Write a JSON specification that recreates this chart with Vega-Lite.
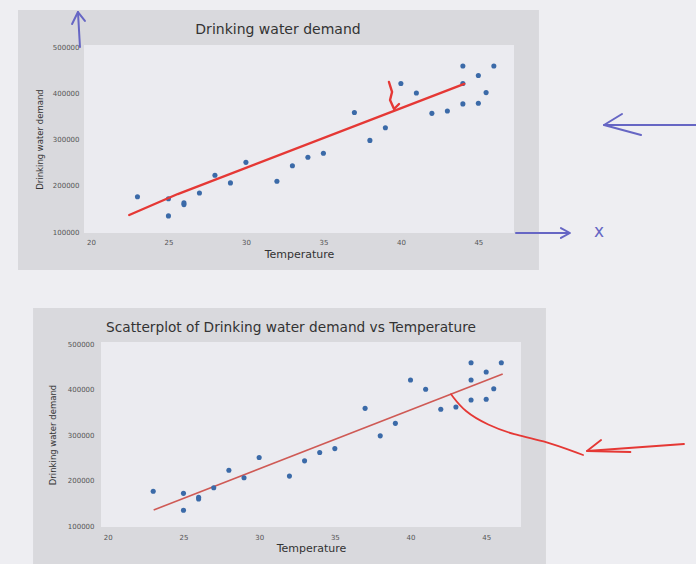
{
  "$schema": "https://vega.github.io/schema/vega-lite/v6.json",
  "background": "#eeeef2",
  "padding": {"left": 17, "top": 10, "right": 0, "bottom": 0},
  "spacing": 38,
  "config": {
    "font": "DejaVu Sans",
    "view": {"stroke": null},
    "axis": {"grid": false, "domain": false, "ticks": false, "labelFontSize": 7, "labelColor": "#555555", "titleFontWeight": "normal", "titleColor": "#333333"},
    "axisX": {"titleFontSize": 11},
    "axisY": {"titleFontSize": 8.5}
  },
  "datasets": {
    "pts": [
      {"Temperature": 23, "Demand": 176500},
      {"Temperature": 25, "Demand": 172000},
      {"Temperature": 25, "Demand": 135000},
      {"Temperature": 26, "Demand": 159500},
      {"Temperature": 26, "Demand": 163200},
      {"Temperature": 27, "Demand": 184500},
      {"Temperature": 28, "Demand": 223000},
      {"Temperature": 29, "Demand": 206500},
      {"Temperature": 30, "Demand": 251000},
      {"Temperature": 32, "Demand": 210000},
      {"Temperature": 33, "Demand": 243500},
      {"Temperature": 34, "Demand": 262000},
      {"Temperature": 35, "Demand": 270500},
      {"Temperature": 37, "Demand": 359000},
      {"Temperature": 38, "Demand": 298500},
      {"Temperature": 39, "Demand": 326000},
      {"Temperature": 40, "Demand": 421500},
      {"Temperature": 41, "Demand": 401000},
      {"Temperature": 42, "Demand": 357000},
      {"Temperature": 43, "Demand": 362000},
      {"Temperature": 44, "Demand": 459500},
      {"Temperature": 44, "Demand": 421500},
      {"Temperature": 44, "Demand": 377500},
      {"Temperature": 45, "Demand": 439000},
      {"Temperature": 45, "Demand": 379000},
      {"Temperature": 45.5, "Demand": 402000},
      {"Temperature": 46, "Demand": 459500}
    ],
    "redTop": [
      {"part": "fit", "step": 1, "Temperature": 22.47, "Demand": 137000},
      {"part": "fit", "step": 2, "Temperature": 25.6, "Demand": 182400},
      {"part": "fit", "step": 3, "Temperature": 44.09, "Demand": 420600},
      {"part": "residual", "step": 1, "Temperature": 39.23, "Demand": 424900},
      {"part": "residual", "step": 2, "Temperature": 39.43, "Demand": 403300},
      {"part": "residual", "step": 3, "Temperature": 39.3, "Demand": 385900},
      {"part": "residual", "step": 4, "Temperature": 39.56, "Demand": 366500},
      {"part": "residual", "step": 5, "Temperature": 39.88, "Demand": 377300}
    ],
    "blueTop": [
      {"part": "yarrow", "step": 1, "Temperature": 19.29, "Demand": 500700},
      {"part": "yarrow", "step": 2, "Temperature": 19.16, "Demand": 576400},
      {"part": "yhead", "step": 1, "Temperature": 18.78, "Demand": 550500},
      {"part": "yhead", "step": 2, "Temperature": 19.16, "Demand": 576400},
      {"part": "yhead", "step": 3, "Temperature": 19.61, "Demand": 557000},
      {"part": "xarrow", "step": 1, "Temperature": 47.43, "Demand": 98000},
      {"part": "xarrow", "step": 2, "Temperature": 50.85, "Demand": 98000},
      {"part": "xhead", "step": 1, "Temperature": 50.33, "Demand": 108800},
      {"part": "xhead", "step": 2, "Temperature": 50.91, "Demand": 98000},
      {"part": "xhead", "step": 3, "Temperature": 50.33, "Demand": 87200},
      {"part": "pointer", "step": 1, "Temperature": 59.11, "Demand": 331800},
      {"part": "pointer", "step": 2, "Temperature": 53.11, "Demand": 331800},
      {"part": "phead", "step": 1, "Temperature": 54.27, "Demand": 355600},
      {"part": "phead", "step": 2, "Temperature": 53.11, "Demand": 331800},
      {"part": "phead", "step": 3, "Temperature": 55.5, "Demand": 310200}
    ],
    "xLabel": [
      {"label": "x", "Temperature": 52.79, "Demand": 100200}
    ],
    "fitBottom": [
      {"Temperature": 23.03, "Demand": 135400},
      {"Temperature": 46.09, "Demand": 434600}
    ],
    "curveBottom": [
      {"step": 1, "Temperature": 42.68, "Demand": 389900},
      {"step": 2, "Temperature": 43.56, "Demand": 351700},
      {"step": 3, "Temperature": 45.1, "Demand": 322400},
      {"step": 4, "Temperature": 46.86, "Demand": 300400},
      {"step": 5, "Temperature": 48.62, "Demand": 290000},
      {"step": 6, "Temperature": 51.4, "Demand": 256400}
    ],
    "arrowBottom": [
      {"part": "pointer", "step": 1, "Temperature": 51.66, "Demand": 265200},
      {"part": "pointer", "step": 2, "Temperature": 58.07, "Demand": 280600},
      {"part": "head", "step": 1, "Temperature": 52.59, "Demand": 289400},
      {"part": "head", "step": 2, "Temperature": 51.66, "Demand": 265200},
      {"part": "head", "step": 3, "Temperature": 54.53, "Demand": 263000}
    ]
  },
  "vconcat": [
    {
      "width": 430,
      "height": 188,
      "title": {"text": "Drinking water demand", "anchor": "middle", "frame": "group", "dx": -21, "offset": -27, "fontSize": 14, "fontWeight": "normal", "color": "#333333", "zindex": 1},
      "layer": [
        {
          "data": {"values": [{}]},
          "mark": {"type": "rect", "color": "#d9d9dd", "clip": false},
          "encoding": {
            "x": {"datum": 15.29, "type": "quantitative", "scale": {"domain": [19.55, 47.3], "nice": false, "zero": false}},
            "x2": {"datum": 48.91},
            "y": {"datum": 580770, "type": "quantitative", "scale": {"domain": [98000, 505000], "nice": false, "zero": false}},
            "y2": {"datum": 17900}
          }
        },
        {
          "data": {"values": [{}]},
          "mark": {"type": "rect", "color": "#ebebf0", "clip": false},
          "encoding": {
            "x": {"datum": 19.55, "type": "quantitative", "scale": {"domain": [19.55, 47.3], "nice": false, "zero": false}},
            "x2": {"datum": 47.3},
            "y": {"datum": 505000, "type": "quantitative", "scale": {"domain": [98000, 505000], "nice": false, "zero": false}},
            "y2": {"datum": 98000}
          }
        },
        {
          "data": {"name": "pts"},
          "mark": {"type": "circle", "size": 26, "color": "#3b6aa8", "opacity": 1},
          "encoding": {
            "x": {"field": "Temperature", "type": "quantitative", "scale": {"domain": [19.55, 47.3], "nice": false, "zero": false}, "axis": {"values": [20, 25, 30, 35, 40, 45], "title": "Temperature", "labelPadding": 5, "titlePadding": 3, "zindex": 1}},
            "y": {"field": "Demand", "type": "quantitative", "scale": {"domain": [98000, 505000], "nice": false, "zero": false}, "axis": {"values": [100000, 200000, 300000, 400000, 500000], "format": "d", "title": "Drinking water demand", "labelPadding": 5, "titlePadding": 8, "zindex": 1}}
          }
        },
        {
          "data": {"name": "redTop"},
          "mark": {"type": "line", "color": "#e53835", "strokeWidth": 2.4, "strokeCap": "round", "strokeJoin": "round", "clip": false},
          "encoding": {
            "x": {"field": "Temperature", "type": "quantitative", "scale": {"domain": [19.55, 47.3], "nice": false, "zero": false}},
            "y": {"field": "Demand", "type": "quantitative", "scale": {"domain": [98000, 505000], "nice": false, "zero": false}},
            "detail": {"field": "part"},
            "order": {"field": "step"}
          }
        },
        {
          "data": {"name": "blueTop"},
          "mark": {"type": "line", "color": "#6666c4", "strokeWidth": 2, "strokeCap": "round", "strokeJoin": "round", "clip": false},
          "encoding": {
            "x": {"field": "Temperature", "type": "quantitative", "scale": {"domain": [19.55, 47.3], "nice": false, "zero": false}},
            "y": {"field": "Demand", "type": "quantitative", "scale": {"domain": [98000, 505000], "nice": false, "zero": false}},
            "detail": {"field": "part"},
            "order": {"field": "step"}
          }
        },
        {
          "data": {"name": "xLabel"},
          "mark": {"type": "text", "color": "#6666c4", "fontSize": 17, "baseline": "middle", "align": "center", "clip": false},
          "encoding": {
            "x": {"field": "Temperature", "type": "quantitative", "scale": {"domain": [19.55, 47.3], "nice": false, "zero": false}},
            "y": {"field": "Demand", "type": "quantitative", "scale": {"domain": [98000, 505000], "nice": false, "zero": false}},
            "text": {"field": "label"}
          }
        }
      ]
    },
    {
      "width": 437,
      "height": 185,
      "title": {"text": "Scatterplot of Drinking water demand vs Temperature", "anchor": "middle", "frame": "group", "dx": -11.5, "offset": -27, "fontSize": 13.7, "fontWeight": "normal", "color": "#333333", "zindex": 1},
      "layer": [
        {
          "data": {"values": [{}]},
          "mark": {"type": "rect", "color": "#d9d9dd", "clip": false},
          "encoding": {
            "x": {"datum": 15.06, "type": "quantitative", "scale": {"domain": [18.427, 47.3], "nice": false, "zero": false}},
            "x2": {"datum": 48.95},
            "y": {"datum": 579800, "type": "quantitative", "scale": {"domain": [98000, 505000], "nice": false, "zero": false}},
            "y2": {"datum": 16600}
          }
        },
        {
          "data": {"values": [{}]},
          "mark": {"type": "rect", "color": "#ebebf0", "clip": false},
          "encoding": {
            "x": {"datum": 19.55, "type": "quantitative", "scale": {"domain": [18.427, 47.3], "nice": false, "zero": false}},
            "x2": {"datum": 47.3},
            "y": {"datum": 505000, "type": "quantitative", "scale": {"domain": [98000, 505000], "nice": false, "zero": false}},
            "y2": {"datum": 98000}
          }
        },
        {
          "data": {"name": "fitBottom"},
          "mark": {"type": "line", "color": "#cf5a55", "strokeWidth": 1.6},
          "encoding": {
            "x": {"field": "Temperature", "type": "quantitative", "scale": {"domain": [18.427, 47.3], "nice": false, "zero": false}},
            "y": {"field": "Demand", "type": "quantitative", "scale": {"domain": [98000, 505000], "nice": false, "zero": false}}
          }
        },
        {
          "data": {"name": "pts"},
          "mark": {"type": "circle", "size": 26, "color": "#3b6aa8", "opacity": 1},
          "encoding": {
            "x": {"field": "Temperature", "type": "quantitative", "scale": {"domain": [18.427, 47.3], "nice": false, "zero": false}, "axis": {"values": [20, 25, 30, 35, 40, 45], "title": "Temperature", "titleX": 227, "labelPadding": 6, "titlePadding": 2, "zindex": 1}},
            "y": {"field": "Demand", "type": "quantitative", "scale": {"domain": [98000, 505000], "nice": false, "zero": false}, "axis": {"values": [100000, 200000, 300000, 400000, 500000], "format": "d", "title": "Drinking water demand", "offset": -17, "labelPadding": 7, "titlePadding": 10, "zindex": 1}}
          }
        },
        {
          "data": {"name": "curveBottom"},
          "mark": {"type": "line", "color": "#e53835", "strokeWidth": 1.8, "strokeCap": "round", "strokeJoin": "round", "clip": false, "interpolate": "basis"},
          "encoding": {
            "x": {"field": "Temperature", "type": "quantitative", "scale": {"domain": [18.427, 47.3], "nice": false, "zero": false}},
            "y": {"field": "Demand", "type": "quantitative", "scale": {"domain": [98000, 505000], "nice": false, "zero": false}},
            "order": {"field": "step"}
          }
        },
        {
          "data": {"name": "arrowBottom"},
          "mark": {"type": "line", "color": "#e53835", "strokeWidth": 1.8, "strokeCap": "round", "strokeJoin": "round", "clip": false},
          "encoding": {
            "x": {"field": "Temperature", "type": "quantitative", "scale": {"domain": [18.427, 47.3], "nice": false, "zero": false}},
            "y": {"field": "Demand", "type": "quantitative", "scale": {"domain": [98000, 505000], "nice": false, "zero": false}},
            "detail": {"field": "part"},
            "order": {"field": "step"}
          }
        }
      ]
    }
  ]
}
